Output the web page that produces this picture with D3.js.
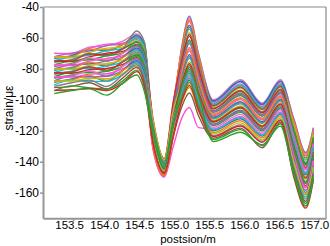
<!DOCTYPE html>
<html>
<head>
<meta charset="utf-8">
<script src="https://cdn.jsdelivr.net/npm/d3@7"></script>
<style>
  body { margin: 0; background: #fff; }
  text { font-family: "Liberation Sans", Arial, sans-serif; fill: #000; }
</style>
</head>
<body>
<div id="chart"></div>
<script>
// knot positions (m) shared by every measured curve
const positions = [153.23, 153.48, 153.73, 153.98, 154.21, 154.41, 154.52, 154.64, 154.80, 154.93,
  155.05, 155.16, 155.29, 155.50, 155.89, 156.20, 156.46, 156.65, 156.82, 156.93];

// strain (µε), one row per curve
const strainSeries = [
  [-70, -70, -66, -65, -62, -57.5, -63.6, -120, -142.8, -104.7, -66.9, -47.2, -71, -100, -87, -102, -87, -112.8, -134.7, -118.7],
  [-72.1, -69.8, -68.5, -65, -64, -61.1, -67.8, -124, -145.2, -107.6, -66, -46, -70, -101.1, -88.4, -103.2, -88.2, -112, -134, -118],
  [-70, -70.5, -66.8, -64, -63.4, -59.2, -65.6, -116, -140.4, -102.2, -68.8, -49.5, -72.9, -102.2, -89.7, -104.3, -89.4, -114.3, -136.2, -120],
  [-73.1, -71.5, -67.7, -68.3, -64.2, -58.4, -64.6, -126, -146.4, -110.8, -70.6, -51.9, -74.8, -100.8, -88, -102.9, -87.9, -115.8, -137.6, -121.4],
  [-72.1, -72, -67.4, -67.6, -64.2, -60.2, -66.8, -118, -141.6, -103.4, -67.8, -48.4, -71.9, -103.2, -91.1, -105.5, -90.6, -113.9, -135.8, -119.7],
  [-74.7, -72.3, -71.3, -68.3, -66.8, -59.7, -66.2, -122, -144, -108.2, -72.4, -54.3, -76.7, -102.7, -90.4, -104.9, -90, -117.3, -139, -122.8],
  [-72.3, -72.8, -69.4, -66.6, -65.9, -61.9, -68.8, -114, -139.2, -102.5, -74.3, -56.6, -78.6, -104.3, -92.4, -106.6, -91.8, -116.6, -138.3, -122.1],
  [-75.7, -74, -70.5, -71.6, -67, -55.5, -63, -128, -147.6, -112.7, -71.5, -53.1, -75.8, -105.4, -93.8, -107.8, -93, -118.8, -140.5, -124.1],
  [-74.7, -74.5, -70.2, -70.9, -67, -62.9, -70, -119, -142.2, -107.1, -76.1, -59, -80.6, -103.8, -91.8, -106.1, -91.2, -120.4, -141.9, -125.5],
  [-77.3, -74.8, -74.1, -71.6, -69.6, -62.4, -69.4, -123, -144.6, -111, -78, -61.3, -82.5, -107, -95.8, -109.5, -94.8, -119.6, -141.2, -124.8],
  [-74.9, -75.3, -72.2, -69.9, -68.7, -64.6, -72, -112, -138, -101.2, -75.2, -57.8, -79.6, -105.9, -94.5, -108.4, -93.6, -122.6, -144.1, -127.5],
  [-78.3, -76.5, -73.3, -74.9, -69.8, -64, -71.3, -125, -145.8, -113.2, -79.8, -63.7, -84.4, -108.1, -97.2, -110.7, -96, -121.5, -143, -126.5],
  [-77.3, -77, -73, -74.2, -69.8, -65.6, -73.2, -121, -143.4, -110.6, -81.6, -66.1, -86.3, -109.2, -98.6, -111.9, -97.2, -124.2, -145.5, -128.9],
  [-79.9, -77.3, -76.9, -74.9, -72.4, -65.1, -72.6, -117, -141, -106.5, -78.9, -62.5, -83.4, -107.6, -96.5, -110.1, -95.4, -125.7, -147, -130.2],
  [-77.5, -77.8, -75, -73.2, -71.5, -67.3, -75.2, -127, -147, -116.1, -83.5, -68.4, -88.2, -110.3, -99.9, -113, -98.4, -123.4, -144.8, -128.2],
  [-80.9, -79, -76.1, -78.2, -72.6, -66.5, -74.2, -115, -139.8, -107.1, -85.3, -70.8, -90.2, -111.3, -101.3, -114.2, -99.6, -127.2, -148.4, -131.6],
  [-79.9, -79.5, -75.8, -77.5, -72.6, -68.3, -76.4, -129, -148.2, -117.4, -82.6, -67.2, -87.3, -109.7, -99.2, -112.4, -97.8, -128.7, -149.8, -133],
  [-82.5, -79.8, -79.7, -78.2, -75.2, -67.8, -75.8, -122, -144, -113.4, -87.2, -73.1, -92.1, -112.4, -102.6, -115.3, -100.8, -126.4, -147.7, -130.9],
  [-80.1, -80.3, -77.8, -76.5, -74.3, -70, -78.4, -113, -138.6, -106.8, -89, -75.5, -94, -113.5, -104, -116.5, -102, -130.2, -151.3, -134.3],
  [-83.5, -81.5, -78.9, -81.5, -75.4, -69.2, -77.4, -130, -148.8, -119.4, -86.2, -72, -91.1, -111.9, -102, -114.8, -100.2, -131.8, -152.7, -135.7],
  [-82.5, -82, -78.6, -80.8, -75.4, -71, -79.6, -118, -141.6, -111.4, -90.8, -77.9, -95.9, -114.6, -105.4, -117.7, -103.2, -129.5, -150.6, -133.6],
  [-85.1, -82.3, -82.5, -81.5, -78, -70.5, -79, -124, -145.2, -116.9, -92.7, -80.2, -97.8, -115.7, -106.7, -118.8, -104.4, -133.3, -154.2, -137],
  [-82.7, -82.8, -80.6, -79.8, -77.1, -72.7, -81.6, -120, -142.8, -112.7, -89.9, -76.7, -95, -114, -104.7, -117.1, -102.6, -134.8, -155.6, -138.4],
  [-86.1, -84, -81.7, -84.8, -78.2, -71.9, -80.6, -131, -149.4, -123.1, -94.5, -82.6, -99.8, -116.7, -108.1, -120, -105.6, -132.5, -153.4, -136.4],
  [-85.1, -84.5, -81.4, -84.1, -78.2, -73.7, -82.8, -116, -140.4, -111.8, -96.4, -84.9, -101.7, -117.8, -109.4, -121.1, -106.8, -136.3, -157, -139.8],
  [-87.7, -84.8, -85.3, -84.8, -80.8, -73.2, -82.2, -126, -146.4, -118.8, -93.6, -81.4, -98.8, -116.2, -107.4, -119.4, -105, -137.8, -158.5, -141.1],
  [-85.3, -85.3, -83.4, -83.1, -79.9, -75.4, -84.8, -132, -150, -130, -112, -105, -118, -118.9, -110.8, -122.3, -108, -135.6, -156.3, -139.1],
  [-88.7, -86.5, -84.5, -88.1, -81, -74.6, -83.8, -123, -144.6, -118, -98.2, -87.3, -103.6, -120, -112.2, -123.5, -109.2, -139.4, -159.9, -142.5],
  [-87.7, -87, -84.2, -87.4, -81, -76.4, -86, -130, -148.8, -124.2, -100, -89.7, -105.5, -121.1, -113.5, -124.6, -110.4, -140.9, -161.4, -143.8],
  [-90.3, -87.3, -88.1, -88.1, -83.6, -75.9, -85.4, -119, -142.2, -113.8, -95.4, -83.8, -100.7, -119.4, -111.5, -122.9, -108.6, -142.4, -162.8, -145.2],
  [-87.9, -87.8, -86.2, -86.4, -82.7, -78.1, -88, -125, -145.8, -120.9, -101.9, -92, -107.4, -122.1, -114.9, -125.8, -111.6, -140.1, -160.6, -143.2],
  [-91.3, -89, -87.3, -91.4, -83.8, -77.3, -87, -121, -143.4, -116.1, -97.3, -86.1, -102.6, -123.2, -116.2, -126.9, -112.8, -143.9, -164.2, -146.6],
  [-92.1, -91.3, -89, -93, -85.8, -79.1, -89.2, -127, -147, -123.4, -104.6, -95.6, -110.3, -124.8, -118.3, -131, -114.6, -145.4, -165.7, -147.9],
  [-94.2, -91, -92.3, -93, -87.8, -80.8, -91.2, -117, -141, -113.5, -99.1, -88.5, -104.6, -125.7, -119.3, -129.6, -115.5, -147, -167.1, -149.3],
  [-93.9, -93.5, -92.6, -94, -89.2, -81.8, -92.4, -128, -147.6, -123, -101, -90.8, -106.5, -123.8, -116.9, -127.5, -113.4, -150, -170, -152],
  [-96, -94, -92.9, -97, -89.4, -84, -95, -122, -144, -115, -91.8, -79, -96.9, -127, -121, -129, -117, -148.5, -168.6, -150.6]
];

const xTicks = [153.5, 154.0, 154.5, 155.0, 155.5, 156.0, 156.5, 157.0];
const yTicks = [-40, -60, -80, -100, -120, -140, -160];

const palette = ['#e377c2', '#9467bd', '#ff4fd8', '#1f77b4', '#ff7f0e', '#17becf',
  '#bcbd22', '#7f7f7f', '#8c564b', '#2ca02c', '#d62728', '#2ca02c'];

const width = 330, height = 246;
const plot = { left: 43, right: 326, top: 7, bottom: 218.3 };

const svg = d3.select('#chart').append('svg').attr('width', width).attr('height', height);

const x = d3.scaleLinear().domain([153.07, 157.11]).range([plot.left, plot.right]);
const y = d3.scaleLinear().domain([-176.6, -40]).range([plot.bottom, plot.top]);

svg.append('defs').append('clipPath').attr('id', 'clip')
  .append('rect')
  .attr('x', plot.left).attr('y', plot.top)
  .attr('width', plot.right - plot.left).attr('height', plot.bottom - plot.top);

const line = d3.line()
  .x((d, i) => x(positions[i]))
  .y(d => y(d))
  .curve(d3.curveMonotoneX);

svg.append('g')
  .attr('clip-path', 'url(#clip)')
  .selectAll('path')
  .data(strainSeries)
  .enter()
  .append('path')
  .attr('d', line)
  .style('fill', 'none')
  .style('stroke', (d, i) => palette[i % palette.length])
  .style('stroke-width', 1.4)
  .style('stroke-linejoin', 'round');

// top and right frame
svg.append('line')
  .attr('x1', plot.left).attr('x2', plot.right)
  .attr('y1', plot.top).attr('y2', plot.top)
  .style('stroke', '#8a8a8a').style('stroke-width', 1.2);
svg.append('line')
  .attr('x1', plot.right).attr('x2', plot.right)
  .attr('y1', plot.top).attr('y2', plot.bottom)
  .style('stroke', '#8a8a8a').style('stroke-width', 1.2);

const xAxis = svg.append('g')
  .attr('transform', `translate(0,${plot.bottom})`)
  .call(d3.axisBottom(x).tickValues(xTicks).tickFormat(d3.format('.1f'))
    .tickSize(3).tickSizeOuter(0).tickPadding(0));

const yAxis = svg.append('g')
  .attr('transform', `translate(${plot.left},0)`)
  .call(d3.axisLeft(y).tickValues(yTicks).tickFormat(d => String(d))
    .tickSize(3).tickSizeOuter(0).tickPadding(1));

[xAxis, yAxis].forEach(g => {
  g.select('.domain').style('stroke', '#969696').style('stroke-width', 2);
  g.selectAll('.tick line').style('stroke', '#969696').style('stroke-width', 1.5);
  g.selectAll('.tick text').style('fill', '#000')
    .style('font-family', '"Liberation Sans", Arial, sans-serif');
});
yAxis.selectAll('.tick text').style('font-size', '12px');
xAxis.selectAll('.tick text').style('font-size', '11.5px').attr('dx', -4);

svg.append('text')
  .attr('x', 188).attr('y', 243)
  .attr('text-anchor', 'middle')
  .style('font-size', '11.5px')
  .text('postsion/m');

svg.append('text')
  .attr('transform', 'translate(13,108) rotate(-90)')
  .attr('text-anchor', 'middle')
  .style('font-size', '12px')
  .text('strain/με');
</script>
</body>
</html>
